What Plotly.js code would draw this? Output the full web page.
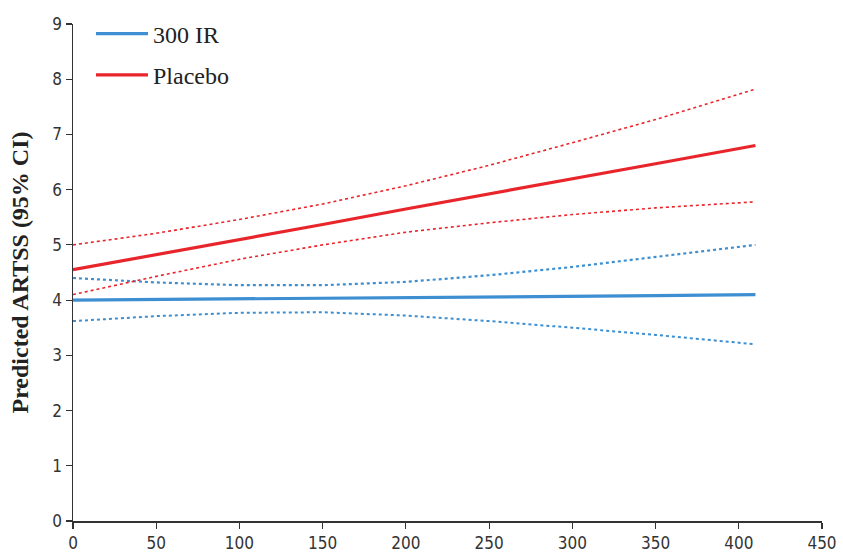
<!DOCTYPE html>
<html>
<head>
<meta charset="utf-8">
<script src="https://cdn.plot.ly/plotly-3.0.1.min.js"></script>
<style>html,body{margin:0;padding:0;background:#fff;}#chart{width:843px;height:556px;}</style>
</head>
<body>
<div id="chart"></div>
<script>
// Days (x values) at which the predicted curves are read
const days = [0, 50, 100, 150, 200, 250, 300, 350, 410];

// 300 IR group
const ir300Mean  = [4.00, 4.01, 4.02, 4.04, 4.05, 4.06, 4.07, 4.08, 4.10];
const ir300Upper = [4.40, 4.32, 4.27, 4.27, 4.33, 4.45, 4.60, 4.78, 5.00];
const ir300Lower = [3.62, 3.71, 3.77, 3.78, 3.72, 3.62, 3.50, 3.37, 3.20];

// Placebo group
const placeboMean  = [4.55, 4.82, 5.10, 5.37, 5.65, 5.92, 6.20, 6.47, 6.80];
const placeboUpper = [5.00, 5.21, 5.46, 5.74, 6.07, 6.44, 6.85, 7.27, 7.82];
const placeboLower = [4.10, 4.43, 4.74, 5.00, 5.23, 5.40, 5.55, 5.67, 5.78];

const xTicks = [0, 50, 100, 150, 200, 250, 300, 350, 400, 450];
const yTicks = [0, 1, 2, 3, 4, 5, 6, 7, 8, 9];

const blue = '#3d8fd1';
const red = '#e8252b';

const traces = [
  {x: days, y: ir300Upper, mode: 'lines', line: {color: blue, width: 2.2, dash: 'dot'}, showlegend: false, hoverinfo: 'skip'},
  {x: days, y: ir300Lower, mode: 'lines', line: {color: blue, width: 2, dash: 'dot'}, showlegend: false, hoverinfo: 'skip'},
  {x: days, y: placeboUpper, mode: 'lines', line: {color: red, width: 1.6, dash: 'dot'}, showlegend: false, hoverinfo: 'skip'},
  {x: days, y: placeboLower, mode: 'lines', line: {color: red, width: 1.6, dash: 'dot'}, showlegend: false, hoverinfo: 'skip'},
  {x: days, y: ir300Mean, mode: 'lines', name: '300 IR', legendgroup: 'a', line: {color: blue, width: 3.2}},
  {x: days, y: placeboMean, mode: 'lines', name: 'Placebo', legendgroup: 'b', line: {color: red, width: 3.2}}
];

const layout = {
  width: 843, height: 556,
  margin: {l: 73, r: 21, t: 21, b: 35},
  paper_bgcolor: '#fff', plot_bgcolor: '#fff',
  showlegend: true,
  legend: {
    x: 0.024, y: 1.025, xanchor: 'left', yanchor: 'top',
    font: {family: 'Liberation Serif, Times New Roman, serif', size: 24, color: '#222'},
    traceorder: 'grouped', tracegroupgap: 7, itemwidth: 52, bgcolor: 'rgba(0,0,0,0)'
  },
  xaxis: {
    range: [0, 450], tickvals: xTicks, ticktext: xTicks.map(String),
    showgrid: false, zeroline: false, showline: true, linecolor: '#333', linewidth: 1.5,
    ticks: 'outside', ticklen: 6, tickcolor: '#333', tickwidth: 1.2,
    tickfont: {family: 'DejaVu Sans Condensed, DejaVu Sans, sans-serif', size: 17, color: '#333'}
  },
  yaxis: {
    range: [0, 9], tickvals: yTicks, ticktext: yTicks.map(String),
    showgrid: false, zeroline: false, showline: true, linecolor: '#333', linewidth: 1.5,
    ticks: 'outside', ticklen: 6, tickcolor: '#333', tickwidth: 1.2,
    tickfont: {family: 'DejaVu Sans Condensed, DejaVu Sans, sans-serif', size: 17, color: '#333'},
    title: {text: '<b>Predicted ARTSS (95% CI)</b>', standoff: 17,
            font: {family: 'Liberation Serif, Times New Roman, serif', size: 24, color: '#222'}}
  }
};

Plotly.newPlot('chart', traces, layout, {displayModeBar: false, staticPlot: true});
</script>
</body>
</html>
